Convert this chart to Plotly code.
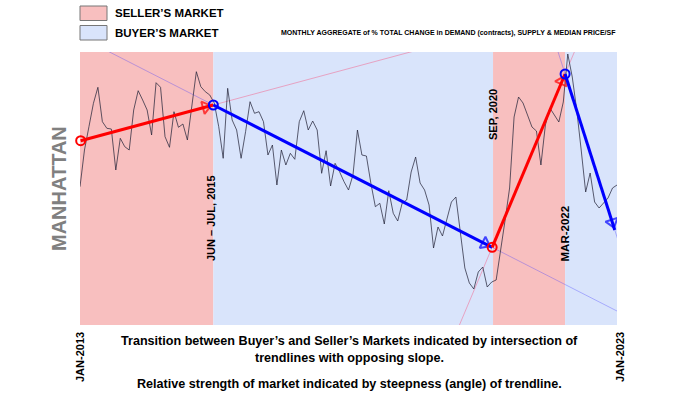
import plotly.graph_objects as go
import math

# ---------------- data ----------------
months = list(range(121))  # Jan-2013 .. Jan-2023
demand_index = [
    138.3, 175, 198.3, 221.7, 237.7, 203.3, 196.7, 196, 155, 186.7,
    178.3, 175, 215, 234.3, 225, 215, 190, 242.3, 237.7, 188.3,
    177.7, 213.3, 197.7, 201, 185, 220, 253.3, 238.3, 233.3, 230,
    222, 198.3, 166.7, 236.7, 205, 195, 166.7, 193.3, 223.3, 211.7,
    213.3, 203.3, 170, 180, 140, 175, 160, 171.7, 165.7, 203.3,
    214.3, 195, 204, 195, 151.7, 174.3, 139, 161.7, 153.3, 143.3,
    135, 150, 195, 170, 169, 141.7, 118.3, 121.7, 101, 134.3,
    111.7, 104, 122, 125, 153, 168, 142, 135, 120, 77,
    98, 89, 105, 123, 128, 92, 57, 42, 36, 53,
    58, 38, 43, 45, 73, 105, 137, 208, 228, 222,
    210, 198, 194, 160, 200, 217, 210, 203, 223, 271,
    248, 215, 175, 133, 152, 123, 117, 122, 127, 137,
    140,
]

trend_x = [0.15, 29.8, 92.1, 108.4, 119.5]
trend_y = [184.3, 220, 77.7, 251, 95]
trend_colors = ["#ff0000", "#0000ff", "#ff0000", "#0000ff"]
ext_colors = ["rgba(255,40,90,0.35)", "rgba(70,60,255,0.35)",
              "rgba(255,40,90,0.35)", "rgba(70,60,255,0.35)"]

region_start = [0, 29.8, 92.3, 108.4]
region_end = [29.8, 92.3, 108.4, 120]
region_kind = ["seller", "buyer", "seller", "buyer"]
region_fill = {"seller": "#f8bfbf", "buyer": "#d9e4fb"}

transition_labels = ["JUN \u2013 JUL, 2015", "SEP, 2020", "MAR-2022"]
axis_labels = ["JAN-2013", "JAN-2023"]

# ---------------- layout helpers ----------------
W, H = 700, 394
PX_LEFT, PX_RIGHT, PX_TOP, PX_BOT = 80, 617, 52, 325
X_RANGE = [0, 120]
Y_RANGE = [0, 273]
px_per_x = (PX_RIGHT - PX_LEFT) / (X_RANGE[1] - X_RANGE[0])
px_per_y = (PX_BOT - PX_TOP) / (Y_RANGE[1] - Y_RANGE[0])

def px(x):
    return x / W

def py(y):
    return 1 - y / H

FONT = "Liberation Sans Narrow, Arial Narrow, Liberation Sans, Arial, sans-serif"

fig = go.Figure()

# trendline extensions (thin, faint)
for i in range(4):
    x0, x1 = trend_x[i], trend_x[i + 1]
    y0, y1 = trend_y[i], trend_y[i + 1]
    slope = (y1 - y0) / (x1 - x0)
    xs = [-10, 130]
    ys = [y0 + slope * (x - x0) for x in xs]
    fig.add_trace(go.Scatter(x=xs, y=ys, mode="lines",
                             line=dict(color=ext_colors[i], width=1),
                             hoverinfo="skip", showlegend=False))

# data line
fig.add_trace(go.Scatter(x=months, y=demand_index, mode="lines",
                         line=dict(color="rgba(35,35,55,0.72)", width=1),
                         showlegend=False))

# thick trend arrows
for i in range(4):
    x0, x1 = trend_x[i], trend_x[i + 1]
    y0, y1 = trend_y[i], trend_y[i + 1]
    c = trend_colors[i]
    fig.add_trace(go.Scatter(x=[x0, x1], y=[y0, y1], mode="lines",
                             line=dict(color=c, width=3),
                             hoverinfo="skip", showlegend=False))
    dxp = (x1 - x0) * px_per_x
    dyp = (y1 - y0) * px_per_y
    L = math.hypot(dxp, dyp)
    back = 8.0 / L
    tx = x1 - (x1 - x0) * back
    ty = y1 - (y1 - y0) * back
    fig.add_trace(go.Scatter(x=[x0, tx], y=[y0, ty], mode="markers",
                             marker=dict(symbol="triangle-up-open", size=[0, 11],
                                         angleref="previous", color=c,
                                         line=dict(color=c, width=2)),
                             hoverinfo="skip", showlegend=False))

# start circles
for i in range(4):
    c = trend_colors[i]
    fig.add_trace(go.Scatter(x=[trend_x[i]], y=[trend_y[i]], mode="markers",
                             marker=dict(symbol="circle-open", size=9, color=c,
                                         line=dict(color=c, width=2)),
                             cliponaxis=False,
                             hoverinfo="skip", showlegend=False))

shapes = []
for s, e, k in zip(region_start, region_end, region_kind):
    shapes.append(dict(type="rect", xref="x", yref="y domain", x0=s, x1=e,
                       y0=0, y1=1, fillcolor=region_fill[k], line=dict(width=0),
                       layer="below"))
shapes.append(dict(type="rect", xref="paper", yref="paper",
                   x0=px(80), x1=px(107), y0=py(20.5), y1=py(6),
                   fillcolor=region_fill["seller"], line=dict(color="#777777", width=1)))
shapes.append(dict(type="rect", xref="paper", yref="paper",
                   x0=px(80), x1=px(107), y0=py(40), y1=py(25.5),
                   fillcolor=region_fill["buyer"], line=dict(color="#777777", width=1)))

ann = []
def txt(text, x, y, size, xanchor="center", angle=0, color="#000000"):
    ann.append(dict(text="<b>" + text + "</b>", x=px(x), y=py(y), xref="paper",
                    yref="paper", xanchor=xanchor, yanchor="middle",
                    showarrow=False, textangle=angle,
                    font=dict(family=FONT, size=size, color=color)))

txt("SELLER\u2019S MARKET", 113, 13.5, 11.5, xanchor="left")
txt("BUYER\u2019S MARKET", 113, 33, 11.5, xanchor="left")
txt("MONTHLY AGGREGATE of % TOTAL CHANGE in DEMAND (contracts), SUPPLY &amp; MEDIAN PRICE/SF",
    618, 33, 7, xanchor="right")
txt("MANHATTAN", 59, 189, 20, angle=-90, color="#808080")
txt(transition_labels[0], 211, 218, 11, angle=-90)
txt(transition_labels[1], 493, 115, 11, angle=-90)
txt(transition_labels[2], 564.5, 234, 11.5, angle=-90)
txt(axis_labels[0], 80, 357, 11, angle=-90)
txt(axis_labels[1], 620, 357, 11, angle=-90)
txt("Transition between Buyer\u2019s and Seller\u2019s Markets indicated by intersection of",
    349, 341, 12.6)
txt("trendlines with opposing slope.", 349, 358, 12.6)
txt("Relative strength of market indicated by steepness (angle) of trendline.",
    349, 384, 12.6)

fig.update_layout(
    width=W, height=H, margin=dict(l=0, r=0, t=0, b=0),
    paper_bgcolor="white", plot_bgcolor="rgba(0,0,0,0)",
    shapes=shapes, annotations=ann, showlegend=False,
    xaxis=dict(range=X_RANGE, domain=[px(PX_LEFT), px(PX_RIGHT)],
               showgrid=False, zeroline=False, showticklabels=False,
               showline=False, ticks=""),
    yaxis=dict(range=Y_RANGE, domain=[py(PX_BOT), py(PX_TOP)],
               showgrid=False, zeroline=False, showticklabels=False,
               showline=False, ticks=""),
)

fig.write_html("out.html")
